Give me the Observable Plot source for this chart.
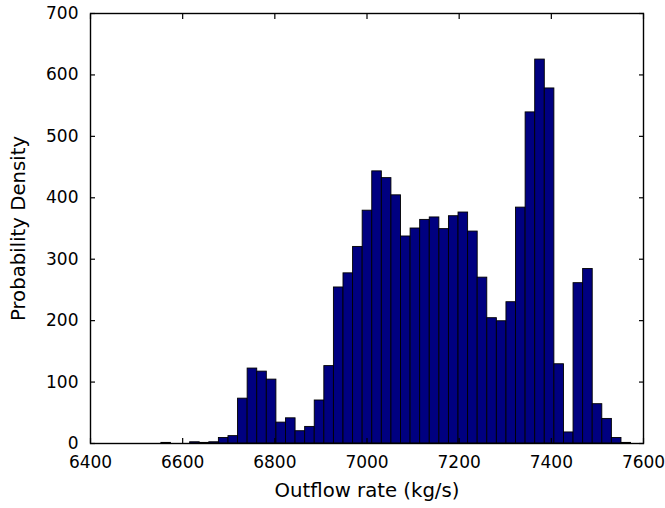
<!DOCTYPE html>
<html>
<head>
<meta charset="utf-8">
<script src="https://cdn.jsdelivr.net/npm/d3@7"></script>
<script src="https://cdn.jsdelivr.net/npm/@observablehq/plot@0.6"></script>
<style>
  html, body { margin: 0; padding: 0; background: #fff; }
  #chart { width: 665px; height: 508px; }
</style>
</head>
<body>
<div id="chart"></div>
<script>
// Histogram: 50 bins starting at binStart, each binWidth wide (kg/s)
const binStart = 6533;
const binWidth = 20.8;
const density = [
  0, 1, 0, 0, 2, 1, 2, 9, 12, 73,
  122, 117, 104, 34, 41, 20, 27, 70, 126, 254,
  277, 320, 379, 443, 432, 404, 337, 350, 364, 368,
  349, 370, 376, 345, 270, 204, 199, 230, 384, 539,
  625, 578, 129, 18, 261, 284, 64, 40, 9, 1
];
const xTicks = [6400, 6600, 6800, 7000, 7200, 7400, 7600];
const yTicks = [0, 100, 200, 300, 400, 500, 600, 700];
const xLabel = "Outflow rate (kg/s)";
const yLabel = "Probability Density";

const bins = density.map((v, i) => ({
  x1: binStart + i * binWidth,
  x2: binStart + (i + 1) * binWidth,
  y: v
}));

const fmt = d => String(d);

const chart = Plot.plot({
  width: 665,
  height: 508,
  marginLeft: 90,
  marginRight: 22,
  marginTop: 13,
  marginBottom: 65,
  style: { fontFamily: "'DejaVu Sans', sans-serif", fontSize: "17px", color: "#000", background: "#fff" },
  x: { domain: [6400, 7600] },
  y: { domain: [0, 700] },
  marks: [
    Plot.rectY(bins, { x1: "x1", x2: "x2", y: "y", fill: "#000080", stroke: "#000", strokeWidth: 0.9 }),
    Plot.frame({ stroke: "#000", strokeWidth: 1.4 }),
    Plot.axisX({ anchor: "bottom", ticks: xTicks, tickSize: -5, tickPadding: 17, tickFormat: fmt, label: null, fontSize: 17, strokeWidth: 1.2 }),
    Plot.axisX({ anchor: "top", ticks: xTicks, tickSize: -5, tickFormat: () => "", label: null, strokeWidth: 1.2 }),
    Plot.axisY({ anchor: "left", ticks: yTicks, tickSize: -5, tickPadding: 17, tickFormat: fmt, label: null, fontSize: 17, strokeWidth: 1.2 }),
    Plot.axisY({ anchor: "right", ticks: yTicks, tickSize: -5, tickFormat: () => "", label: null, strokeWidth: 1.2 }),
    Plot.text([xLabel], { frameAnchor: "bottom", dy: 53, fontSize: 19.7, textAnchor: "middle" }),
    Plot.text([yLabel], { frameAnchor: "left", rotate: -90, dx: -72, fontSize: 19.7, textAnchor: "middle" })
  ]
});
document.getElementById("chart").appendChild(chart);
</script>
</body>
</html>
